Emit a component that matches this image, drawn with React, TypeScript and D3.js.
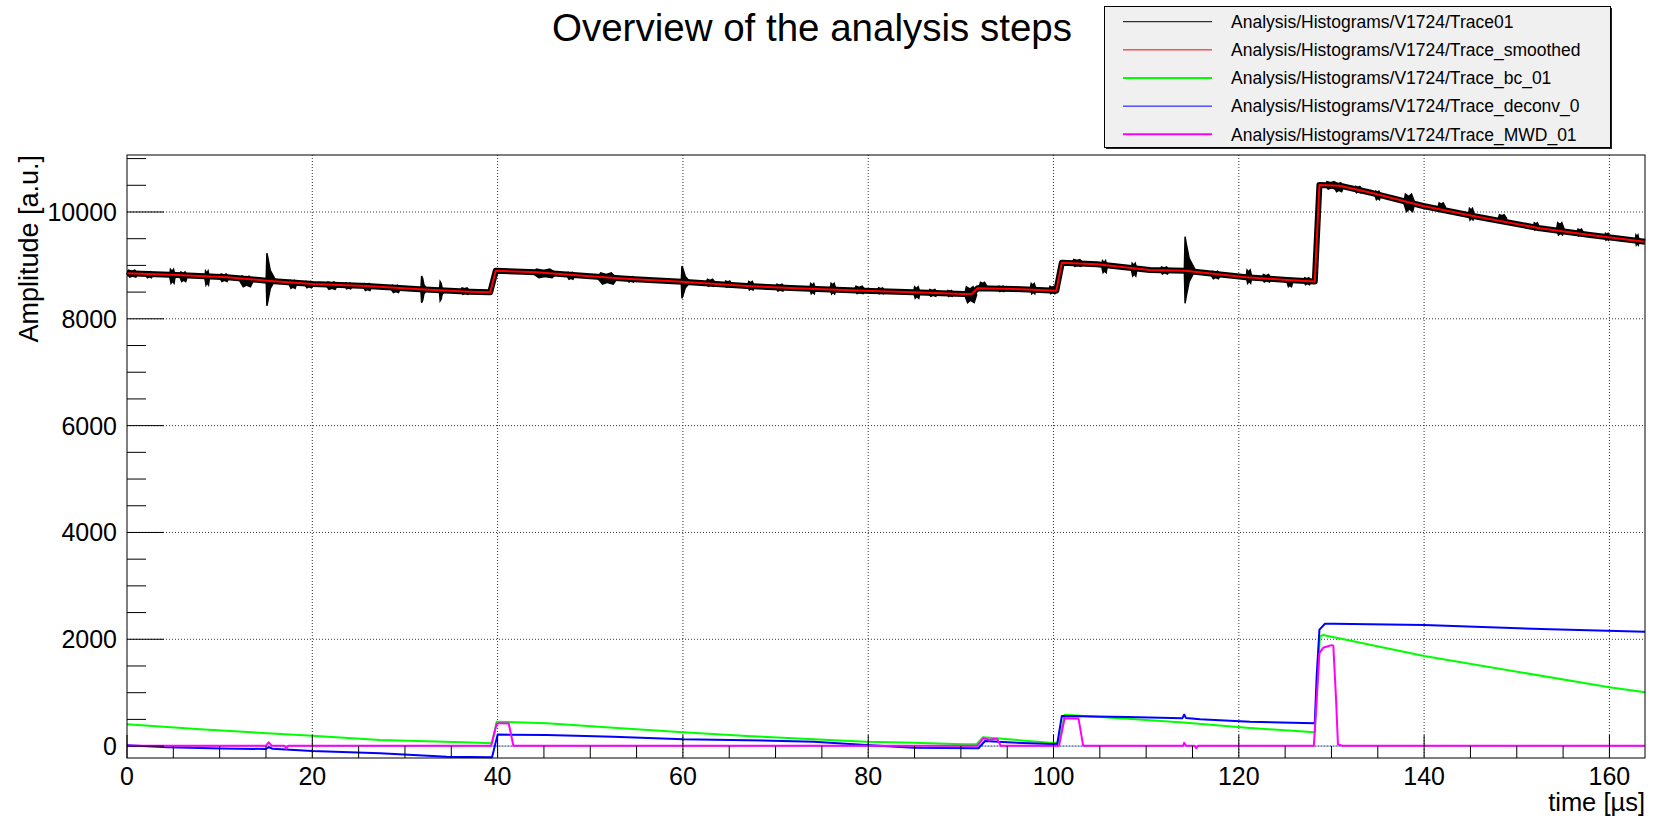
import React, { useEffect, useRef } from "react";
import * as d3 from "d3";

// time in microseconds, amplitude in a.u.
const traceSmoothed: [number, number][] = [
  [0, 8852], [5.4, 8821], [10.8, 8777], [15.1, 8714], [20.1, 8652], [25.9, 8615],
  [31.6, 8553], [37, 8508], [39.2, 8496], [39.8, 8901], [44.2, 8871], [49.6, 8802],
  [54.3, 8745], [59.9, 8696], [66.9, 8615], [72.3, 8571], [79.5, 8527], [84.9, 8496],
  [90.3, 8465], [91.2, 8470], [91.8, 8571], [95.7, 8558], [100.3, 8527], [100.9, 9051],
  [104.7, 9021], [110.4, 8914], [114.2, 8900], [120.8, 8777], [125.2, 8727], [128.2, 8700],
  [128.7, 10506], [130.9, 10493], [134.5, 10350], [139.9, 10112], [145.3, 9925],
  [152.5, 9694], [157.9, 9569], [163.84, 9444],
];

// ringing bursts on the raw trace: time, top, bottom, duration
const rawSpikes: [number, number, number, number][] = [
  [15.1, 9227, 8245, 0.9], [31.8, 8802, 8302, 0.6], [33.8, 8696, 8339, 0.5],
  [59.9, 8989, 8384, 0.9], [114.2, 9538, 8290, 1.1],
];

// noise clumps on the raw trace: time, top, bottom, duration
const rawBlobs: [number, number, number, number][] = [
  [0, 8910, 8780, 1.2], [2.0, 8880, 8770, 0.8], [4.6, 8927, 8665, 0.6], [5.7, 8877, 8696, 0.8],
  [8.4, 8895, 8633, 0.5], [10.0, 8840, 8700, 1.0], [12.2, 8800, 8600, 1.4], [17.5, 8720, 8570, 0.8],
  [19.2, 8700, 8580, 0.9], [21.5, 8690, 8550, 1.2], [23.5, 8670, 8560, 0.8], [25.5, 8660, 8530, 0.9],
  [28.5, 8630, 8490, 1.0], [36, 8580, 8460, 1.0], [43.8, 8930, 8770, 2.6], [47.5, 8870, 8740, 0.8],
  [50.8, 8860, 8650, 2.1], [54, 8790, 8690, 0.8], [62.5, 8740, 8610, 1.0], [64.5, 8710, 8590, 0.8],
  [67, 8700, 8540, 0.7], [70, 8650, 8520, 1.0], [73.7, 8660, 8470, 0.6], [75.9, 8665, 8465, 0.6],
  [78.5, 8610, 8470, 1.2], [81, 8580, 8470, 0.8], [84.9, 8600, 8384, 0.7], [86.5, 8550, 8420, 1.0],
  [88.5, 8530, 8420, 0.7], [90.4, 8601, 8302, 1.3], [92.0, 8683, 8540, 0.8], [94, 8610, 8510, 0.8],
  [97.5, 8660, 8470, 0.6], [99.5, 8610, 8470, 0.8], [102, 9110, 8980, 1.2], [105.2, 9088, 8864, 0.6],
  [108.4, 9040, 8802, 0.6], [111.5, 8970, 8840, 1.0], [117, 8890, 8750, 1.0], [120.8, 8914, 8665, 0.6],
  [122.5, 8830, 8690, 1.0], [125.2, 8758, 8601, 0.6], [127, 8770, 8640, 0.8],
  [129.3, 10570, 10430, 1.4], [130.3, 10549, 10380, 1.0], [132.5, 10480, 10360, 0.8],
  [134.7, 10390, 10230, 0.6], [137.8, 10337, 10006, 1.2], [141.5, 10170, 10010, 0.8],
  [144.8, 10069, 9850, 0.6], [148, 9950, 9810, 0.9], [151.8, 9800, 9663, 0.6], [154.3, 9800, 9569, 0.8],
  [156.5, 9680, 9550, 0.7], [159.5, 9600, 9470, 0.5], [162.8, 9569, 9382, 0.4],
];

const traceBc: [number, number][] = [
  [0, 408], [7.9, 314], [20, 195], [27.3, 114], [36.3, 71], [39.4, 52], [39.9, 457],
  [45.3, 427], [52.5, 345], [60, 258], [66.9, 189], [74.1, 127], [79.8, 82], [84.9, 64],
  [90.3, 34], [91.7, 34], [92.4, 165], [99.6, 64], [100.6, 64], [101.2, 588], [108, 510],
  [114, 440], [121.2, 340], [128.2, 258], [128.75, 2055], [129.1, 2080], [140, 1687],
  [160, 1101], [163.84, 1007],
];

const traceDeconv: [number, number][] = [
  [0, 15], [4.4, -20], [10.2, -45], [15, -54], [15.3, -20], [15.7, -50], [20, -92],
  [27.3, -135], [34.5, -198], [39.4, -210], [40.0, 215], [45.3, 208], [52.5, 176], [60, 127],
  [66.9, 110], [74.1, 82], [79.8, 20], [84.9, -30], [91.3, -41], [91.9, -41], [92.6, 95],
  [95, 70], [99.6, 39], [100.4, 39], [100.9, 564], [108, 545], [113.9, 520], [114.1, 590],
  [114.3, 525], [115.8, 501], [121.2, 457], [128.2, 427], [128.4, 1300], [128.7, 2180],
  [129.3, 2290], [130.2, 2290], [140, 2267], [153.6, 2187], [163.84, 2142],
];

const traceMwd: [number, number][] = [
  [0, 8], [15.0, 8], [15.3, 70], [15.6, 8], [17.0, 8], [17.2, -50], [17.4, 8], [39.3, 8],
  [39.9, 420], [40.3, 430], [41.2, 425], [41.7, 8], [91.8, 8], [92.4, 146], [93.1, 120],
  [93.9, 140], [94.3, 8], [100.6, 8], [101.2, 520], [102.7, 515], [103.2, 8], [114.0, 8],
  [114.1, 60], [114.3, 8], [115.2, 8], [115.4, -40], [115.6, 8], [128.1, 8], [128.4, 860],
  [128.7, 1740], [129.1, 1840], [130.0, 1890], [130.2, 1880], [130.5, 860], [130.7, 30],
  [131.2, 8], [163.84, 8],
];

const xTicks = [0, 20, 40, 60, 80, 100, 120, 140, 160];
const yTicks = [0, 2000, 4000, 6000, 8000, 10000];

const legendEntries = [
  { label: "Analysis/Histograms/V1724/Trace01", color: "#000000", width: 1 },
  { label: "Analysis/Histograms/V1724/Trace_smoothed", color: "#ff0000", width: 1 },
  { label: "Analysis/Histograms/V1724/Trace_bc_01", color: "#00ff00", width: 2 },
  { label: "Analysis/Histograms/V1724/Trace_deconv_0", color: "#0000ff", width: 1 },
  { label: "Analysis/Histograms/V1724/Trace_MWD_01", color: "#ff00ff", width: 2 },
];

const FONT = "'Liberation Sans', Arial, Helvetica, sans-serif";

function App() {
  const svgRef = useRef<SVGSVGElement>(null);
  const width = 1660,
    height = 819;

  useEffect(() => {
    const svg = d3.select(svgRef.current);
    svg.selectAll("*").remove();

    const left = 127,
      right = 1645,
      top = 155,
      bottom = 758;

    const x = d3.scaleLinear().domain([0, 163.84]).range([left, right]);
    const y = d3.scaleLinear().domain([-222.8, 11067]).range([bottom, top]);

    svg.append("rect").attr("width", width).attr("height", height).attr("fill", "#fff");

    // title
    svg
      .append("text")
      .attr("x", 812)
      .attr("y", 41)
      .attr("text-anchor", "middle")
      .attr("font-family", FONT)
      .attr("font-size", "38.5px")
      .text("Overview of the analysis steps");

    // grid
    const grid = svg
      .append("g")
      .attr("stroke", "#333")
      .attr("stroke-width", 1)
      .attr("stroke-dasharray", "1,2");
    xTicks
      .filter((d) => d > 0)
      .forEach((d) => {
        grid.append("line").attr("x1", x(d)).attr("x2", x(d)).attr("y1", top).attr("y2", bottom);
      });
    yTicks.forEach((d) => {
      grid.append("line").attr("x1", left).attr("x2", right).attr("y1", y(d)).attr("y2", y(d));
    });

    // zero line
    svg
      .append("line")
      .attr("x1", left)
      .attr("x2", right)
      .attr("y1", y(0))
      .attr("y2", y(0))
      .attr("stroke", "#7d8fc4")
      .attr("stroke-width", 1);

    const line = d3
      .line<[number, number]>()
      .x((d) => x(d[0]))
      .y((d) => y(d[1]));

    const plot = svg.append("g");

    // raw trace: noise band + bursts
    plot
      .append("path")
      .attr("d", line(traceSmoothed))
      .attr("fill", "none")
      .attr("stroke", "#000")
      .attr("stroke-width", 6)
      .attr("stroke-linejoin", "round");

    rawBlobs.forEach(([t, hi, lo, w]) => {
      const mid = (hi + lo) / 2;
      const pts: [number, number][] = [
        [t, mid],
        [t + w * 0.15, hi],
        [t + w * 0.45, hi - (hi - mid) * 0.3],
        [t + w * 0.7, hi],
        [t + w, mid],
        [t + w * 0.8, lo],
        [t + w * 0.5, lo + (mid - lo) * 0.3],
        [t + w * 0.25, lo],
      ];
      plot.append("path").attr("d", line(pts) + "Z").attr("fill", "#000").attr("stroke", "#000").attr("stroke-width", 1.5);
    });

    rawSpikes.forEach(([t, hi, lo, w]) => {
      const mid = (hi + lo) / 2;
      const pts: [number, number][] = [
        [t - 0.08, mid],
        [t, hi],
        [t + 0.12, hi - (hi - mid) * 0.2],
        [t + w * 0.4, mid + (hi - mid) * 0.35],
        [t + w, mid],
        [t + w * 0.4, mid - (mid - lo) * 0.35],
        [t + 0.12, lo + (mid - lo) * 0.2],
        [t, lo],
      ];
      plot.append("path").attr("d", line(pts) + "Z").attr("fill", "#000").attr("stroke", "#000").attr("stroke-width", 1.5);
    });

    const series: [[number, number][], string][] = [
      [traceSmoothed, "#ff0000"],
      [traceBc, "#00ff00"],
      [traceDeconv, "#0000ff"],
      [traceMwd, "#ff00ff"],
    ];
    series.forEach(([data, color]) => {
      plot
        .append("path")
        .attr("d", line(data))
        .attr("fill", "none")
        .attr("stroke", color)
        .attr("stroke-width", 2)
        .attr("stroke-linejoin", "round");
    });

    // frame
    svg
      .append("rect")
      .attr("x", left)
      .attr("y", top)
      .attr("width", right - left)
      .attr("height", bottom - top)
      .attr("fill", "none")
      .attr("stroke", "#000")
      .attr("stroke-width", 1);

    // ticks
    const ticks = svg.append("g").attr("stroke", "#000").attr("stroke-width", 1);
    d3.range(0, 163.84, 5).forEach((d) => {
      const major = d % 20 === 0;
      ticks
        .append("line")
        .attr("x1", x(d))
        .attr("x2", x(d))
        .attr("y1", bottom)
        .attr("y2", bottom - (major ? 23 : 12));
    });
    d3.range(0, 11067, 500).forEach((d) => {
      const major = d % 2000 === 0;
      ticks
        .append("line")
        .attr("x1", left)
        .attr("x2", left + (major ? 37 : 19))
        .attr("y1", y(d))
        .attr("y2", y(d));
    });

    // tick labels
    const labels = svg.append("g").attr("font-family", FONT).attr("font-size", "25px").attr("fill", "#000");
    xTicks.forEach((d) => {
      labels.append("text").attr("x", x(d)).attr("y", 785).attr("text-anchor", "middle").text(d);
    });
    yTicks.forEach((d) => {
      labels
        .append("text")
        .attr("x", 117)
        .attr("y", y(d) + 9)
        .attr("text-anchor", "end")
        .text(d);
    });

    // axis titles
    svg
      .append("text")
      .attr("transform", `translate(38, ${top}) rotate(-90)`)
      .attr("text-anchor", "end")
      .attr("font-family", FONT)
      .attr("font-size", "27px")
      .text("Amplitude [a.u.]");
    svg
      .append("text")
      .attr("x", right)
      .attr("y", 811)
      .attr("text-anchor", "end")
      .attr("font-family", FONT)
      .attr("font-size", "25.5px")
      .text("time [\u00b5s]");

    // legend
    const lg = svg.append("g");
    lg.append("rect").attr("x", 1106).attr("y", 8).attr("width", 506).attr("height", 141).attr("fill", "#222");
    lg.append("rect")
      .attr("x", 1104.5)
      .attr("y", 6.5)
      .attr("width", 506)
      .attr("height", 141)
      .attr("fill", "#f0f0f0")
      .attr("stroke", "#000")
      .attr("stroke-width", 1);
    legendEntries.forEach((e, i) => {
      const cy = 21.7 + i * 28.15;
      lg.append("line")
        .attr("x1", 1123)
        .attr("x2", 1212)
        .attr("y1", cy)
        .attr("y2", cy)
        .attr("stroke", e.color)
        .attr("stroke-width", e.width);
      lg.append("text")
        .attr("x", 1231)
        .attr("y", cy + 6.2)
        .attr("font-family", FONT)
        .attr("font-size", "17.5px")
        .text(e.label);
    });
  }, []);

  return (
    <div style={{ position: "absolute", left: 0, top: 0 }}>
      <svg ref={svgRef} width={width} height={height} style={{ display: "block" }} />
    </div>
  );
}

export default App;
